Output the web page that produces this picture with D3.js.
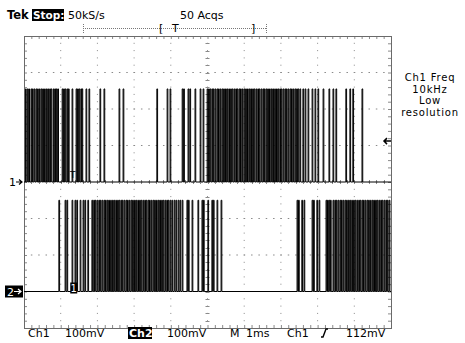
<!DOCTYPE html>
<html>
<head>
<meta charset="utf-8">
<script src="https://cdn.jsdelivr.net/npm/d3@7"></script>
<style>
  html, body { margin: 0; padding: 0; background: #fff; }
  svg { display: block; }
  text { font-family: "DejaVu Sans", sans-serif; font-size: 11px; fill: #000; }
</style>
</head>
<body>
<svg id="scope" width="465" height="343"></svg>
<script>
// Pulse onset times (ms) of each acquired channel, 10 ms record
const ch1Pulses = [
  0.04,0.09,0.13,0.19,0.23,0.28,0.33,0.37,0.42,0.47,0.51,0.56,0.61,0.65,0.70,0.74,0.80,0.84,0.88,0.92,
  1.04,1.08,1.12,1.17,1.21,1.31,1.42,1.46,1.50,1.55,1.58,1.69,1.77,2.07,2.18,2.59,2.70,3.62,3.90,3.98,
  4.31,4.35,4.47,4.52,4.66,4.80,4.88,4.99,5.03,5.07,
  5.12,5.16,5.21,5.26,5.30,5.35,5.40,5.44,5.49,5.53,5.58,5.63,5.67,5.72,5.77,5.81,5.86,5.90,5.95,6.00,
  6.04,6.09,6.14,6.18,6.23,6.27,6.32,6.37,6.41,6.46,6.51,6.55,6.60,6.64,6.69,6.74,6.78,6.83,6.88,6.92,
  6.97,7.01,7.06,7.11,7.15,7.20,7.25,7.29,7.34,7.39,7.43,
  7.47,7.52,7.60,7.66,7.74,7.85,7.93,8.01,8.15,8.31,8.42,8.50,8.77,8.88,8.96,9.21
];
const ch2Pulses = [
  0.95,1.12,1.17,1.31,1.39,1.44,1.53,1.61,1.66,1.74,
  1.85,1.90,1.94,1.99,2.04,2.08,2.13,2.18,2.22,2.27,2.31,2.36,2.41,2.45,2.50,2.55,2.59,2.64,2.68,2.73,
  2.78,2.82,2.87,2.92,2.96,3.01,3.05,3.10,3.15,3.19,3.24,3.29,3.33,3.38,3.42,3.47,3.52,3.56,3.61,3.66,
  3.70,3.75,3.79,3.84,3.89,3.93,3.98,
  4.03,4.09,4.14,4.20,4.25,4.31,4.44,4.48,4.58,4.74,4.85,4.89,5.01,5.12,5.16,5.26,5.37,
  7.44,7.48,7.57,7.63,7.85,7.89,7.98,8.04,8.23,8.27,8.31,8.35,
  8.42,8.47,8.51,8.56,8.61,8.65,8.70,8.75,8.79,8.84,8.88,8.93,8.98,9.02,9.07,9.12,9.16,9.21,9.25,9.30,
  9.35,9.39,9.44,9.49,9.53,9.58,9.62,9.67,9.72,9.76,9.81,9.86,9.90,9.95
];
// Channel settings: vertical position (divisions), low/high levels (mV), scale (mV/div)
const channelNames = ["Ch1", "Ch2"];
const channelPosition = [0, -3];
const channelLevels = [[0, 255], [0, 250]];
const voltsPerDiv = [100, 100];
const pulseWidthMs = 0.02;
const triggerLevelMv = 112;
const timePerDivMs = 1;

// Readout texts
const headerTexts = ["Tek", "Stop:", "50kS/s", "50 Acqs"];
const sideNote = ["Ch1 Freq", "10kHz", "Low", "resolution"];
const footerTexts = ["Ch1", "100mV", "Ch2", "100mV", "M", "1ms", "Ch1", "112mV"];

const svg = d3.select("#scope");

// 10 x 8 division graticule
const x = d3.scaleLinear().domain([0, 10 * timePerDivMs]).range([24, 391]);
const y = d3.scaleLinear().domain([-4, 4]).range([328, 36]);

const grid = svg.append("g");
const minorX = d3.range(0, 50.001, 1).map(i => i * 0.2);
const minorY = d3.range(0, 40.001, 1).map(i => -4 + i * 0.2);
const gridColor = "#8a8a8a";

// dotted division lines
for (let i = 1; i < 10; i++) {
  grid.selectAll(null).data(minorY.slice(1, -1)).join("rect")
    .attr("x", x(i) - 0.5).attr("y", d => y(d) - 0.5)
    .attr("width", 1).attr("height", 1).attr("fill", gridColor);
}
for (let j = -3; j <= 3; j++) {
  grid.selectAll(null).data(minorX.slice(1, -1)).join("rect")
    .attr("x", d => x(d) - 0.5).attr("y", y(j) - 0.5)
    .attr("width", 1.5).attr("height", 1).attr("fill", gridColor);
}
// centre cross tick marks
grid.selectAll(null).data(minorY.slice(1, -1)).join("line")
  .attr("x1", x(5) - 2).attr("x2", x(5) + 2)
  .attr("y1", d => Math.round(y(d)) + 0.5).attr("y2", d => Math.round(y(d)) + 0.5)
  .attr("stroke", gridColor).attr("stroke-width", 1);
grid.selectAll(null).data(minorX.slice(1, -1)).join("line")
  .attr("y1", y(0) - 2).attr("y2", y(0) + 2)
  .attr("x1", d => Math.round(x(d)) + 0.5).attr("x2", d => Math.round(x(d)) + 0.5)
  .attr("stroke", gridColor).attr("stroke-width", 1);

// border ticks via axes
const tickOpts = (ax, vals) => ax.tickValues(vals).tickSize(-3).tickSizeOuter(0).tickFormat("");
const styleAxis = g => { g.selectAll("path").remove(); g.selectAll("line").attr("stroke", gridColor); };
grid.append("g").attr("transform", `translate(0,${y(4)})`).call(tickOpts(d3.axisTop(x), minorX.slice(1, -1))).call(styleAxis);
grid.append("g").attr("transform", `translate(0,${y(-4)})`).call(tickOpts(d3.axisBottom(x), minorX.slice(1, -1))).call(styleAxis);
grid.append("g").attr("transform", `translate(${x(0)},0)`).call(tickOpts(d3.axisLeft(y), minorY.slice(1, -1))).call(styleAxis);
grid.append("g").attr("transform", `translate(${x(10)},0)`).call(tickOpts(d3.axisRight(y), minorY.slice(1, -1))).call(styleAxis);

grid.append("rect")
  .attr("x", x(0) + 0.5).attr("y", y(4) + 0.5)
  .attr("width", x(10) - x(0)).attr("height", y(-4) - y(4))
  .attr("fill", "none").attr("stroke", "#6a6a6a").attr("stroke-width", 1);

// Waveform traces
const line = d3.line().x(d => x(d[0])).y(d => d[1]);
function tracePoints(pulses, ch) {
  const lo = y(channelPosition[ch] + channelLevels[ch][0] / voltsPerDiv[ch]);
  const hi = y(channelPosition[ch] + channelLevels[ch][1] / voltsPerDiv[ch]);
  const pts = [[0, lo]];
  pulses.forEach(t => {
    pts.push([t, lo], [t, hi], [t + pulseWidthMs, hi], [t + pulseWidthMs, lo]);
  });
  pts.push([10 * timePerDivMs, lo]);
  return pts;
}
[ch1Pulses, ch2Pulses].forEach((p, ch) => {
  svg.append("path")
    .attr("d", line(tracePoints(p, ch)))
    .attr("fill", "none").attr("stroke", "#000").attr("stroke-width", 1);
});

// Channel ground markers
const gnd1 = y(channelPosition[0]);
const gnd2 = y(channelPosition[1]);
svg.append("text").attr("x", 9).attr("y", gnd1 + 4).text("1");
svg.append("path").attr("d", `M16,${gnd1}H22M19,${gnd1 - 2.5}L22,${gnd1}L19,${gnd1 + 2.5}`)
  .attr("stroke", "#000").attr("fill", "none").attr("stroke-width", 1.2);
svg.append("rect").attr("x", 5).attr("y", gnd2 - 6).attr("width", 18).attr("height", 12).attr("fill", "#000");
svg.append("text").attr("x", 7).attr("y", gnd2 + 4).style("fill", "#fff").text("2");
svg.append("path").attr("d", `M14,${gnd2}H21M18,${gnd2 - 2.5}L21,${gnd2}L18,${gnd2 + 2.5}`)
  .attr("stroke", "#fff").attr("fill", "none").attr("stroke-width", 1.2);

// Trigger position markers on traces
svg.append("text").attr("x", x(1.33)).attr("y", gnd1 - 4).attr("text-anchor", "middle")
  .style("font-size", "9px").text("T");
svg.append("rect").attr("x", x(1.26)).attr("y", gnd2 - 9).attr("width", 7).attr("height", 11).attr("fill", "#000");
svg.append("text").attr("x", x(1.26) + 3.5).attr("y", gnd2 + 0.5).attr("text-anchor", "middle")
  .style("font-size", "10px").style("fill", "#fff").text("1");

// Trigger level arrow at right edge
const trigY = y(channelPosition[0] + triggerLevelMv / voltsPerDiv[0]);
svg.append("path").attr("d", `M384,${trigY}H391M387,${trigY - 3}L384,${trigY}L387,${trigY + 3}`)
  .attr("stroke", "#000").attr("fill", "none").attr("stroke-width", 1.5);

// Header line
const header = svg.append("g");
header.append("text").attr("x", 7).attr("y", 19).style("font-weight", "bold").style("font-size", "11.5px").text(headerTexts[0]);
header.append("rect").attr("x", 32).attr("y", 9).attr("width", 32).attr("height", 12).attr("fill", "#000");
header.append("text").attr("x", 33).attr("y", 19).style("font-weight", "bold").style("fill", "#fff").style("font-size", "10.5px").text(headerTexts[1]);
header.append("text").attr("x", 68).attr("y", 19).text(headerTexts[2]);
header.append("text").attr("x", 180).attr("y", 19).text(headerTexts[3]);

// Record / trigger position bar
header.append("path").attr("d", "M83,28.5H267M83.5,24V33M266.5,24V33")
  .attr("stroke", "#777").attr("stroke-dasharray", "1,1").attr("fill", "none");
header.append("text").attr("x", 159).attr("y", 32).text("[");
header.append("text").attr("x", 172).attr("y", 32).text("T");
header.append("text").attr("x", 251).attr("y", 32).text("]");

// Side note
svg.append("g").selectAll("text").data(sideNote).join("text")
  .attr("x", 430).attr("y", (d, i) => 81 + i * 11.6)
  .attr("text-anchor", "middle")
  .style("font-size", "10px").style("letter-spacing", "0.8px")
  .text(d => d);

// Footer readout
const footer = svg.append("g");
const fy = 337;
footer.append("text").attr("x", 28).attr("y", fy).text(footerTexts[0]);
footer.append("text").attr("x", 65).attr("y", fy).text(footerTexts[1]);
footer.append("rect").attr("x", 128).attr("y", fy - 10).attr("width", 24).attr("height", 12).attr("fill", "#000");
footer.append("text").attr("x", 129).attr("y", fy).style("fill", "#fff").style("font-weight", "bold").text(footerTexts[2]);
footer.append("text").attr("x", 167).attr("y", fy).text(footerTexts[3]);
footer.append("text").attr("x", 230).attr("y", fy).text(footerTexts[4]);
footer.append("text").attr("x", 246).attr("y", fy).text(footerTexts[5]);
footer.append("text").attr("x", 287).attr("y", fy).text(footerTexts[6]);
footer.append("path").attr("d", `M321,${fy}H323L326,${fy - 8}H328`)
  .attr("stroke", "#000").attr("fill", "none").attr("stroke-width", 1.4);
footer.append("text").attr("x", 346).attr("y", fy).text(footerTexts[7]);
</script>
</body>
</html>
